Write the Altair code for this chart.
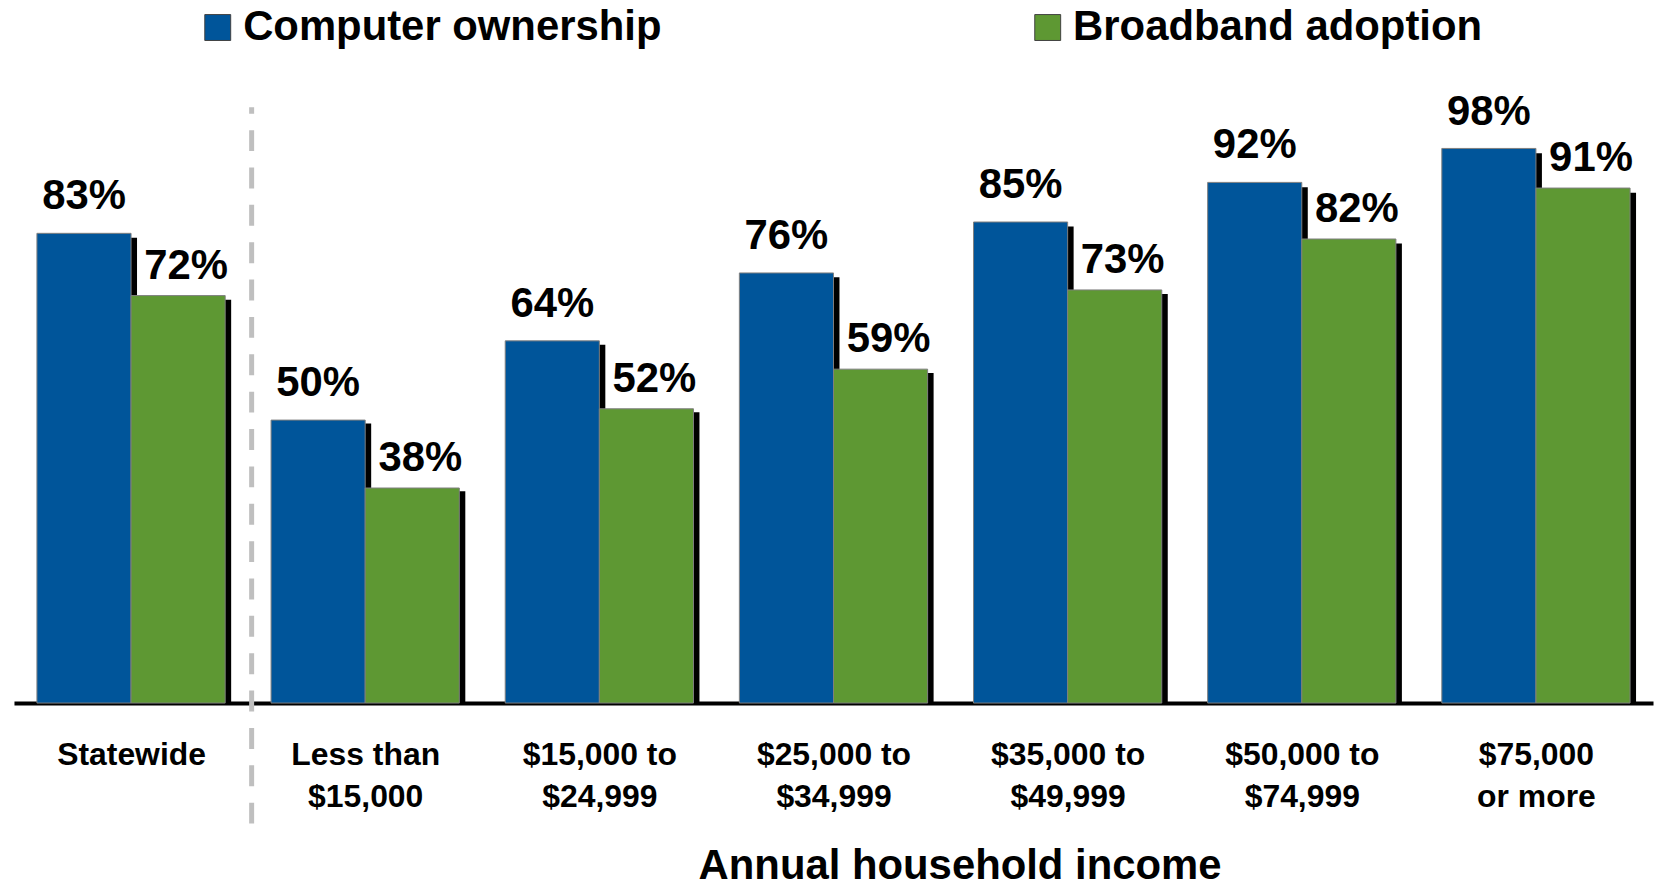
import altair as alt
import pandas as pd

categories = [
    "Statewide",
    "Less than\n$15,000",
    "$15,000 to\n$24,999",
    "$25,000 to\n$34,999",
    "$35,000 to\n$49,999",
    "$50,000 to\n$74,999",
    "$75,000\nor more",
]
computer_ownership = [83, 50, 64, 76, 85, 92, 98]
broadband_adoption = [72, 38, 52, 59, 73, 82, 91]
series = ["Computer ownership", "Broadband adoption"]
colors = ["#00559A", "#5E9833"]

rows = []
for c, v in zip(categories, computer_ownership):
    rows.append({"category": c, "series": series[0], "value": v, "label": f"{v}%"})
for c, v in zip(categories, broadband_adoption):
    rows.append({"category": c, "series": series[1], "value": v, "label": f"{v}%"})
df = pd.DataFrame(rows)

FONT = "Liberation Sans"
W, H = 1645, 568
P_IN = 0.196
step = W / len(categories)
bw = step * (1 - P_IN)
q = bw / 4  # shift from band centre to each bar's centre

axis_main = alt.Axis(
    title="Annual household income",
    labelExpr="split(datum.label, '\\n')",
    labelFont=FONT,
    labelFontSize=32,
    labelFontWeight="bold",
    labelColor="black",
    labelPadding=37,
    labelLineHeight=42,
    labelAngle=0,
    labelLimit=0,
    ticks=False,
    domainColor="black",
    domainWidth=4,
    titleFont=FONT,
    titleFontSize=42,
    titleFontWeight="bold",
    titleColor="black",
    titleX=949,
    titleY=176,
    titleBaseline="alphabetic",
    titleAlign="center",
    grid=False,
)


def x_enc(shift=0.0, axis=None):
    return alt.X(
        "category:N",
        sort=categories,
        scale=alt.Scale(
            domain=categories,
            paddingInner=P_IN,
            paddingOuter=P_IN / 2,
            range=[shift, W + shift],
        ),
        axis=axis,
    )


y_scale = alt.Scale(domain=[0, 100], nice=False, zero=True)
y_enc = alt.Y("value:Q", scale=y_scale, axis=None)
y_shadow = alt.Y("value:Q", scale=alt.Scale(domain=[0, 100], nice=False, zero=True, range=[H + 2, 5]), axis=None)

color_enc = alt.Color(
    "series:N",
    sort=series,
    scale=alt.Scale(domain=series, range=colors),
    legend=alt.Legend(
        title=None,
        orient="none",
        legendX=183.5,
        legendY=-131,
        direction="horizontal",
        symbolType="square",
        symbolSize=676,
        symbolStrokeColor="#404040",
        symbolStrokeWidth=1,
        labelFont=FONT,
        labelFontSize=42,
        labelFontWeight="bold",
        labelColor="black",
        labelOffset=4.5,
        labelLimit=0,
        columnPadding=366,
    ),
)

text_style = dict(font=FONT, fontSize=42, fontWeight="bold", color="black", align="center", baseline="alphabetic")
half = alt.RelativeBandSize(0.5)

layers = []
# shadows first
for s, sh in zip(series, [-q, q]):
    layers.append(
        alt.Chart(df).transform_filter(alt.datum.series == s)
        .mark_bar(color="black", width=half)
        .encode(x=x_enc(sh + 6), y=y_shadow)
    )
# bars
for s, sh in zip(series, [-q, q]):
    layers.append(
        alt.Chart(df).transform_filter(alt.datum.series == s)
        .mark_bar(width=half, stroke="#7F7F7F", strokeWidth=1)
        .encode(x=x_enc(sh), y=y_enc, color=color_enc)
    )

divider_df = pd.DataFrame({"category": [categories[1]], "lo": [-21.3], "hi": [105.3]})
divider = alt.Chart(divider_df).mark_rule(
    color="#BFBFBF", strokeWidth=5, strokeDash=[21, 16.5]
).encode(
    x=alt.X(
        "category:N",
        sort=categories,
        bandPosition=0,
        scale=alt.Scale(domain=categories, paddingInner=P_IN, paddingOuter=P_IN / 2, range=[-19.5, W - 19.5]),
        axis=None,
    ),
    y=alt.Y("lo:Q", scale=y_scale, axis=None),
    y2="hi:Q",
)
layers.append(divider)

layers.append(
    alt.Chart(df).transform_filter(alt.datum.series == series[0])
    .mark_text(dy=-24, dx=-q, **text_style)
    .encode(x=x_enc(0, axis_main), y=y_enc, text="label:N")
)
layers.append(
    alt.Chart(df).transform_filter(alt.datum.series == series[1])
    .mark_text(dy=-17, dx=q + 8, **text_style)
    .encode(x=x_enc(0), y=y_enc, text="label:N")
)

chart = (
    alt.layer(*layers)
    .resolve_scale(x="independent", y="independent")
    .properties(
        width=W,
        height=H,
        padding={"left": 6, "top": 128, "right": 4, "bottom": 178},
        autosize=alt.AutoSizeParams(type="none"),
    )
    .configure_view(stroke=None)
)

chart.save("out.html", embed_options={"renderer": "svg", "actions": False})
